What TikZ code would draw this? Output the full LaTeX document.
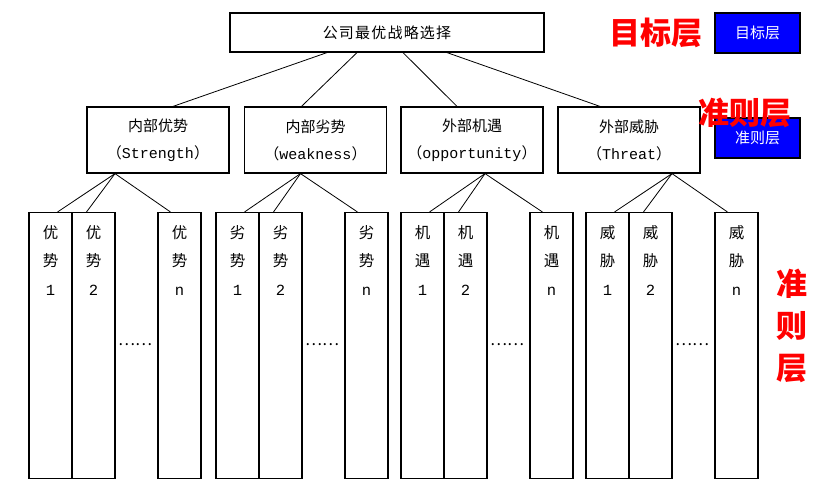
\documentclass[tikz,border=0pt]{standalone}
\usepackage{fontspec}
\setmainfont{Noto Sans CJK SC}
\setmonofont{Liberation Mono}
\usetikzlibrary{positioning}

\begin{document}
\begin{tikzpicture}[
  x=1pt, y=-1pt,
  box/.style={draw, line width=1.2pt, inner sep=0pt},
  goalbox/.style={box, minimum width=314pt, minimum height=39pt,
    font=\fontsize{15}{16}\selectfont\addfontfeature{LetterSpace=8}},
  critbox/.style={box, minimum width=142pt, minimum height=66pt, align=center,
    font=\fontsize{15}{27}\selectfont},
  col/.style={box, minimum width=43pt, minimum height=266pt, anchor=north},
  coltxt/.style={anchor=north, yshift=-13pt, align=center, inner sep=0pt,
    font=\fontsize{15.5}{28.5}\selectfont},
  link/.style={line width=0.8pt},
  dots/.style={font=\fontsize{16}{18}\selectfont, inner sep=0pt},
  tag/.style={text=red, font=\fontsize{31}{42}\selectfont\bfseries, inner sep=0pt, align=center},
  legend/.style={draw, line width=1.2pt, fill=blue, text=white, minimum width=85pt,
    minimum height=40pt, inner sep=0pt, font=\fontsize{15}{16}\selectfont}
]
  \useasboundingbox (0,0) rectangle (817,481);

  % goal layer
  \node[goalbox] (goal) at (387,32.5) {公司最优战略选择};

  % criteria layer
  \node[critbox] (s) at (158,140) {内部优势\\（\texttt{Strength}）};
  \node[critbox] (w) at (315.5,140) {内部劣势\\（\texttt{weakness}）};
  \node[critbox] (o) at (472,140) {外部机遇\\（\texttt{opportunity}）};
  \node[critbox] (t) at (629,140) {外部威胁\\（\texttt{Threat}）};

  \draw[link] ([xshift=-60pt]goal.south) -- ([xshift=15pt]s.north);
  \draw[link] ([xshift=-30pt]goal.south) -- ([xshift=-14pt]w.north);
  \draw[link] ([xshift=16pt]goal.south) -- ([xshift=-15pt]o.north);
  \draw[link] ([xshift=60pt]goal.south) -- ([xshift=-29pt]t.north);

  % factor columns
  \foreach \g/\left/\a/\b/\off in {s/29/优/势/-43, w/216/劣/势/-15, o/401/机/遇/13, t/586/威/胁/43} {
    \node[col, label={[coltxt]north:{\a\\\b\\\texttt{1}}}] (\g1) at (\left+21.5,212) {};
    \node[col, label={[coltxt]north:{\a\\\b\\\texttt{2}}}] (\g2) at (\left+64.5,212) {};
    \node[col, label={[coltxt]north:{\a\\\b\\\texttt{n}}}] (\g n) at (\left+150.5,212) {};
    \node[dots] (\g dots) at (\left+106,345) {……};
    \draw[link] ([xshift=\off pt]\g.south) -- ([xshift=7pt]\g1.north);
    \draw[link] ([xshift=\off pt]\g.south) -- ([xshift=-7pt]\g2.north);
    \draw[link] ([xshift=\off pt]\g.south) -- ([xshift=-9pt]\g n.north);
  }

  % layer key
  \node[legend] (goalKey) at (757.5,33) {目标层};
  \node[legend] (critKey) at (757.5,138) {准则层};
  \node[tag] (goalTag) at (656,33) {目标层};
  \node[tag] (critTag) at (745,113) {准则层};
  \node[tag] (factorTag) at (792,326) {准\\则\\层};
\end{tikzpicture}
\end{document}
